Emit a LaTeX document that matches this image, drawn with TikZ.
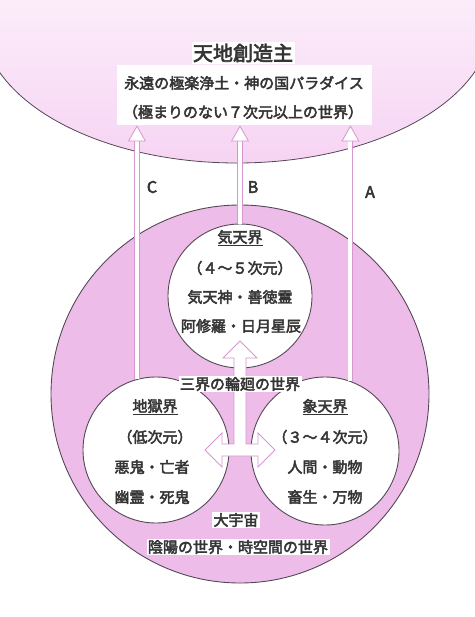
\documentclass[tikz,border=0pt]{standalone}
\usepackage{fontspec}
\setmainfont{Noto Sans CJK JP}[AutoFakeBold=3]
\usepackage{tikz}
\usetikzlibrary{arrows.meta}

\definecolor{pinkfill}{RGB}{238,188,233}
\definecolor{heavenpink}{RGB}{246,212,243}
\definecolor{pinkline}{RGB}{214,150,208}
\definecolor{rimgray}{RGB}{85,72,85}
\definecolor{textgray}{RGB}{52,52,52}

\begin{document}
\begin{tikzpicture}[x=1pt,y=-1pt,thick]
    %
    % `world' is used for the three white circles.
    % `txt' is plain text, `label' is text on a white box.
    % `hollow' is used for the pink arrows A, B and C.
    \tikzstyle{world} = [draw=rimgray,fill=white,shape=circle,inner sep=0pt,line width=0.9pt]
    \tikzstyle{txt} = [text=textgray,inner sep=1pt,font=\fontsize{15}{18}\selectfont\bfseries]
    \tikzstyle{label} = [txt,fill=white,inner sep=1.5pt]
    \tikzstyle{letter} = [text=textgray,font=\fontsize{16}{18}\selectfont\bfseries]
    \tikzstyle{hollow} = [draw=pinkline,line width=0.8pt,double=white,double distance=4pt,-{Triangle[width=18pt,length=16pt,fill=white,line width=0.8pt]}]
    \useasboundingbox (0,0) rectangle (474,617);
    %
    % Heaven
    \path[top color=white,bottom color=heavenpink,draw=rimgray,line width=0.8pt] (237,20) ellipse [x radius=255,y radius=143];
    \node[fill=white,minimum width=255pt,minimum height=60pt] (heaven) at (244,95) {};
    \node[label,fill=white,font=\fontsize{20}{22}\selectfont\bfseries] (creator) at (243,53) {天地創造主};
    \node[txt] (paradise) at (244,83) {永遠の極楽浄土・神の国パラダイス};
    \node[txt] (beyond) at (243,112) {（極まりのない７次元以上の世界）};
    %
    % Great universe
    \node[draw=rimgray,fill=pinkfill,shape=circle,inner sep=0pt,line width=0.9pt,minimum size=378pt] (cosmos) at (240,394) {};
    %
    % The three worlds
    \node[world,minimum size=144pt] (kiten) at (240,296) {};
    \node[world,minimum size=146pt] (jigoku) at (156,450) {};
    \node[world,minimum size=148pt] (shoten) at (325,451) {};
    %
    % Arrows up to heaven
    \draw[hollow] (jigoku.105) -- (jigoku.105 |- heaven.south);
    \draw[hollow] (kiten.north) -- (kiten.north |- heaven.south);
    \draw[hollow] (shoten.70) -- (shoten.70 |- heaven.south);
    \node[letter] (labC) at (152,187) {C};
    \node[letter] (labB) at (253,187) {B};
    \node[letter] (labA) at (370,192) {A};
    %
    % Arrow between the worlds
    \draw[draw=pinkline,fill=white,line width=0.9pt] (205,450) -- (222,433) -- (222,444) -- (234,444) -- (234,358)
        -- (223,358) -- (240,341) -- (257,358) -- (246,358) -- (246,444) -- (258,444) -- (258,433)
        -- (275,450) -- (258,467) -- (258,456) -- (222,456) -- (222,467) -- cycle;
    \node[label] (rinne) at (240,384) {三界の輪廻の世界};
    %
    % Text of the worlds
    \node[txt] (kitenname) at (240,238) {\underline{気天界}};
    \node[txt] (kitendim) at (240,268) {（４～５次元）};
    \node[txt] (kitenA) at (240,297) {気天神・善徳霊};
    \node[txt] (kitenB) at (241,326) {阿修羅・日月星辰};
    \node[txt] (jigokuname) at (155,407) {\underline{地獄界}};
    \node[txt] (jigokudim) at (155,437) {（低次元）};
    \node[txt] (jigokuA) at (152,467) {悪鬼・亡者};
    \node[txt] (jigokuB) at (152,497) {幽霊・死鬼};
    \node[txt] (shotenname) at (325,407) {\underline{象天界}};
    \node[txt] (shotendim) at (325,437) {（３～４次元）};
    \node[txt] (shotenA) at (325,467) {人間・動物};
    \node[txt] (shotenB) at (325,497) {畜生・万物};
    %
    % Name of the great universe
    \node[label] (daiuchu) at (236,520) {大宇宙};
    \node[label] (inyo) at (238,547) {陰陽の世界・時空間の世界};
    %
\end{tikzpicture}
\end{document}
